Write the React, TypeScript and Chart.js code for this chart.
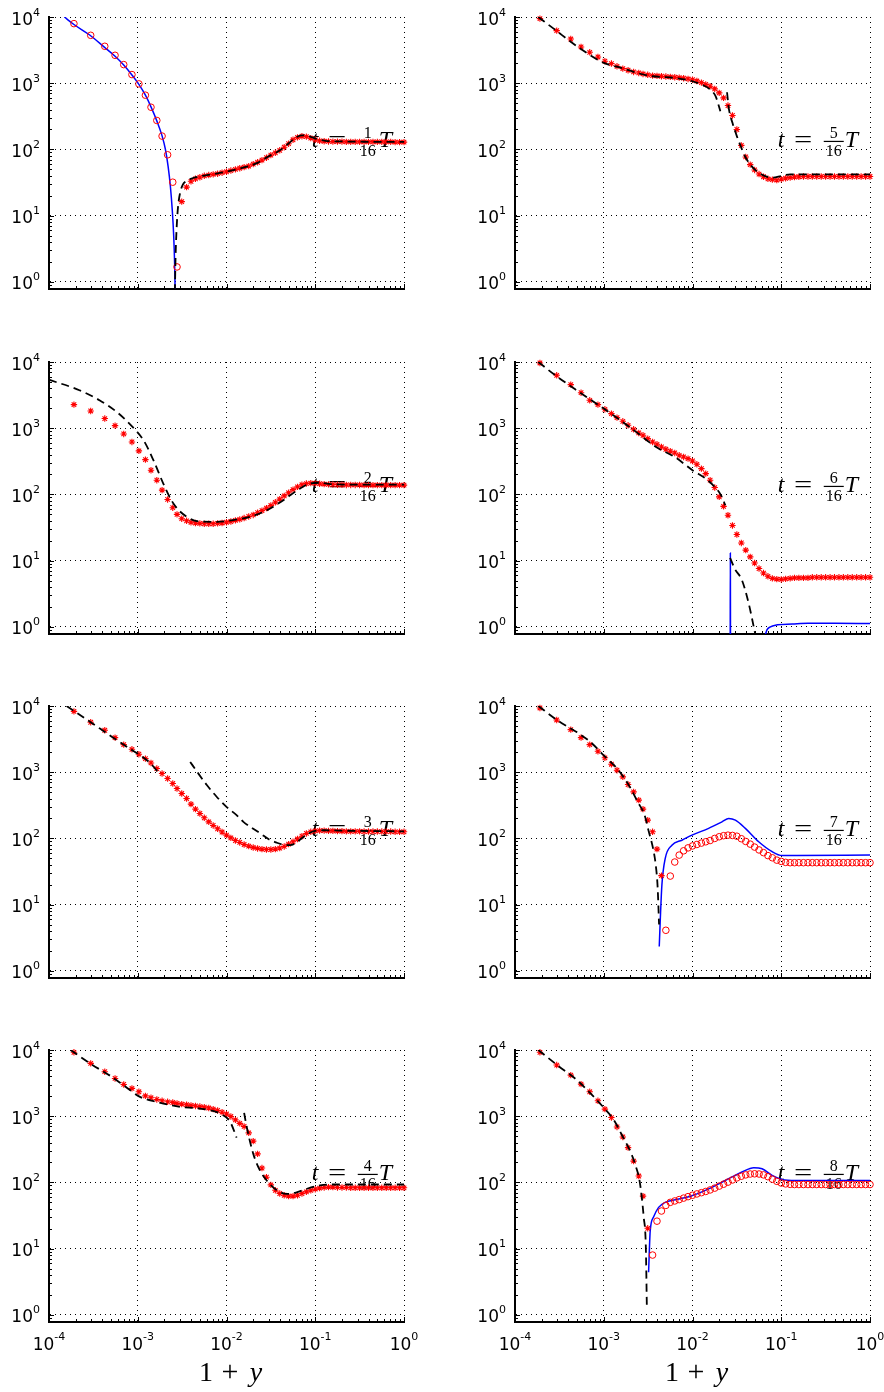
import React, { useEffect, useRef } from 'react';
import { Chart, registerables } from 'chart.js';

Chart.register(...registerables);

// ---------- shared marker grid (values of 1+y) ----------
const GRID_X = [
  1.91e-4, 2.95e-4, 4.25e-4, 5.55e-4, 6.95e-4, 8.6e-4, 1.03e-3, 1.22e-3, 1.41e-3, 1.64e-3,
  1.88e-3, 2.17e-3, 2.48e-3, 2.77e-3, 3.13e-3,
  0.00355, 0.00398, 0.00447, 0.00501, 0.00562, 0.00631, 0.00708, 0.00794, 0.00891, 0.01,
  0.0112, 0.0126, 0.0141, 0.0158, 0.0178, 0.02, 0.0224, 0.0251, 0.0282, 0.0316,
  0.0355, 0.0398, 0.0447, 0.0501, 0.0562, 0.0631, 0.0708, 0.0794, 0.0891, 0.1,
  0.112, 0.126, 0.141, 0.158, 0.178, 0.2, 0.224, 0.251, 0.282, 0.316,
  0.355, 0.398, 0.447, 0.501, 0.562, 0.631, 0.708, 0.794, 0.891, 1.0,
];

const X_DECADES = [1e-4, 1e-3, 1e-2, 1e-1, 1];
const Y_DECADES = [1, 10, 100, 1000, 10000];

// ---------- panel t = 1/16 T ----------
const P1_CIRCLE_START = 0;
const P1_CIRCLE_Y = [7940, 5290, 3610, 2640, 1910, 1350, 977, 659, 434, 274, 159, 83, 32, 1.68];
const P1_STAR_START = 14;
const P1_STAR_Y = [16.3, 27, 33, 36, 38, 40, 41, 42, 43, 44.5, 46, 48, 50, 52, 54, 56, 60, 64, 69, 75, 82,
  89, 97, 108, 122, 140, 152, 158, 156, 148, 140, 135, 133, 132,
  131, 131, 131, 130, 130, 130, 130, 130, 130, 130, 130, 130, 130, 130, 129, 129, 129];
const P1_DASH_X = [2.62e-3, 2.67e-3, 2.75e-3, 2.85e-3, 3.0e-3, 3.2e-3, 3.5e-3, 4.2e-3, 5e-3, 6e-3, 7.5e-3, 1e-2,
  1.3e-2, 1.7e-2, 2.2e-2, 3e-2, 4e-2, 5e-2, 6e-2, 7e-2, 8e-2, 1e-1, 1.3e-1, 2e-1, 3e-1, 5e-1, 1];
const P1_DASH_Y = [0.7, 2.5, 7, 14, 22, 29, 33, 37, 39, 41, 43, 46, 50, 55, 62, 79, 97, 123, 150, 163, 162, 146,
  135, 132, 131, 130, 130];
const P1_BLUE_X = [1.49e-4, 1.91e-4, 2.9e-4, 4.2e-4, 5.55e-4, 6.95e-4, 8.6e-4, 1.03e-3, 1.22e-3, 1.41e-3, 1.64e-3,
  1.88e-3, 2.05e-3, 2.2e-3, 2.33e-3, 2.45e-3, 2.54e-3, 2.6e-3, 2.64e-3];
const P1_BLUE_Y = [10000, 7700, 5300, 3500, 2550, 1880, 1330, 960, 660, 440, 270, 160, 100, 55, 28, 12, 5, 2, 0.7];

// ---------- panel t = 2/16 T ----------
const P2_STAR_START = 0;
const P2_STAR_Y = [2270, 1820, 1400, 1095, 819, 620, 454, 336, 232, 164, 116, 84, 63, 50, 43,
  40, 38, 37, 36.5, 36, 36, 36, 36.5, 37, 38, 39, 40.5, 42, 44, 46.5, 49, 53, 57, 62, 68,
  76, 85, 95, 106, 118, 130, 140, 146, 148, 147, 145, 143, 142,
  141, 140, 140, 139, 139, 139, 139, 138, 138, 138, 138, 138, 138, 138, 138, 138, 138];
const P2_DASH_X = [1e-4, 2.2e-4, 3.7e-4, 5.8e-4, 8.9e-4, 1.16e-3, 1.5e-3, 1.94e-3, 2.52e-3, 3.56e-3, 5e-3, 7.8e-3,
  1.19e-2, 1.84e-2, 2.84e-2, 4.37e-2, 6.7e-2, 8.7e-2, 1.1e-1, 1.5e-1, 2.5e-1, 1];
const P2_DASH_Y = [5400, 3750, 2650, 1760, 1020, 660, 330, 146, 73, 46, 39, 38.5, 41, 46, 57.5, 82, 122, 146, 150,
  143, 141, 141];

// ---------- panel t = 3/16 T ----------
const P3_STAR_START = 0;
const P3_STAR_Y = [8300, 5680, 4300, 3330, 2610, 2220, 1870, 1605, 1380, 1135, 955, 803, 675, 567, 477,
  401, 330, 277, 238, 205, 178, 157, 140, 125, 112, 102, 93, 87, 81, 76.6, 73, 70.6, 69, 68, 68,
  69, 71.5, 75.7, 82, 89, 98, 108, 119, 126, 130, 131, 131, 130,
  130, 129, 129, 128, 128, 128, 128, 127, 127, 127, 127, 127, 127, 127, 126, 126, 126];
const P3_DASH_X = [1.58e-4, 3e-4, 5e-4, 8e-4, 1.1e-3, 1.4e-3, 1.78e-3, 2.5e-3, 3.9e-3, 4.7e-3, 6e-3, 7.7e-3, 1e-2,
  1.3e-2, 1.55e-2, 2e-2, 2.4e-2, 3e-2, 3.7e-2, 4.4e-2, 5.2e-2, 6e-2, 7e-2, 8.5e-2, 1e-1, 1.3e-1, 2e-1, 5e-1, 1];
const P3_DASH_Y = [10000, 5600, 3500, 2300, 1750, 1350, 920, null, 1430, 1000, 640, 430, 300, 225, 178, 140, 119, 97,
  86, 80, 79, 85, 100, 120, 130, 133, 131, 129, 128];

// ---------- panel t = 4/16 T ----------
const P4_STAR_START = 0;
const P4_STAR_Y = [9230, 6280, 4700, 3720, 3020, 2630, 2340, 2030, 1900, 1790, 1710, 1650, 1610, 1560, 1520,
  1490, 1460, 1430, 1400, 1370, 1330, 1280, 1220, 1150, 1080, 990, 880, 780, 700, 560, 420, 270, 165, 120, 92,
  76, 68, 64, 62, 62, 64, 68, 72, 76, 79, 82, 84, 85,
  85, 84, 84, 84, 83, 83, 83, 83, 83, 83, 83, 83, 83, 83, 83, 83, 83];
const P4_DASH_X = [1.75e-4, 3e-4, 5e-4, 7e-4, 1.06e-3, 1.63e-3, 2.99e-3, 5e-3, 8.45e-3, 1.1e-2, 1.3e-2, 1.45e-2,
  1.58e-2, 1.69e-2, 2e-2, 2.38e-2, 2.84e-2, 3.67e-2, 4.76e-2, 6.17e-2, 8e-2, 1.13e-1, 1.6e-1, 1];
const P4_DASH_Y = [10000, 6100, 4000, 2900, 1960, 1650, 1385, 1306, 1097, 820, 475, null,
  1120, 688, 272, 152, 107, 77, 67, 71, 80, 90, 93, 93];

// ---------- panel t = 5/16 T ----------
const P5_STAR_START = 0;
const P5_STAR_Y = [9440, 6220, 4650, 3530, 2930, 2490, 2150, 1980, 1800, 1660, 1570, 1480, 1430, 1380, 1340,
  1300, 1290, 1275, 1260, 1245, 1230, 1215, 1190, 1160, 1130, 1080, 1020, 960, 900, 822, 715, 601, 460, 326, 200,
  115, 77, 59, 49, 42.5, 38.7, 36, 35, 34.5, 35.5, 36.7, 37.5, 38.3,
  38.7, 39, 39, 39, 39, 39, 39, 39, 39, 39, 39, 39, 39, 39, 39, 39, 39];
const P5_DASH_X = [1.83e-4, 2.82e-4, 5e-4, 1e-3, 1.58e-3, 3.16e-3, 6.3e-3, 1e-2, 1.26e-2, 1.58e-2, 1.82e-2, 2.06e-2,
  2.25e-2, 2.45e-2, 2.57e-2, 2.82e-2, 3.16e-2, 3.55e-2, 3.98e-2, 5.01e-2, 6.31e-2, 7.94e-2, 1e-1, 1.26e-1, 1];
const P5_DASH_Y = [10000, 6440, 3610, 2030, 1700, 1300, 1200, 1070, 955, 804, 637, 378, null,
  731, 410, 252, 159, 106, 75, 50, 40.5, 37.4, 39.6, 42, 42];

// ---------- panel t = 6/16 T ----------
const P6_STAR_START = 0;
const P6_STAR_Y = [9660, 6300, 4550, 3440, 2640, 2270, 1930, 1660, 1445, 1272, 1107, 963, 848, 782, 697,
  620, 572, 521, 481, 449, 423, 390, 368, 347, 320, 285, 245, 206, 164, 127, 92, 66, 48.5, 34, 24.8,
  18.5, 14.4, 11.4, 9.2, 7.6, 6.5, 5.8, 5.4, 5.25, 5.2, 5.3, 5.4, 5.5,
  5.5, 5.5, 5.5, 5.6, 5.6, 5.6, 5.6, 5.6, 5.6, 5.6, 5.6, 5.6, 5.6, 5.6, 5.6, 5.6, 5.6];
const P6_DASH_X = [1.83e-4, 2.8e-4, 5e-4, 1e-3, 2e-3, 3.98e-3, 6.3e-3, 1e-2, 1.41e-2, 1.78e-2, 2.1e-2, 2.34e-2,
  2.5e-2, 2.65e-2, 3.0e-2, 3.61e-2, 4.3e-2, 4.9e-2, 5.3e-2];
const P6_DASH_Y = [10000, 6400, 3700, 1980, 1020, 510, 368, 232, 173, 130, 97, 68.6, null,
  11, 7.5, 5.06, 2.25, 1.0, 0.6];
const P6_BLUE_X = [2.66e-2, 2.67e-2, 2.68e-2, 4e-2, 6.5e-2, 6.9e-2, 7.55e-2, 8.6e-2, 1.33e-1, 2e-1, 4e-1, 1];
const P6_BLUE_Y = [0.5, 13, 0.5, null, 0.7, 0.9, 1.0, 1.06, 1.1, 1.13, 1.13, 1.12];

// ---------- panel t = 7/16 T ----------
const P7_STAR_START = 0;
const P7_STAR_Y = [9330, 6150, 4400, 3330, 2610, 2070, 1650, 1320, 1073, 851, 652, 505, 379, 277, 189, 126, 69, 27.4];
const P7_CIRCLE_START = 18;
const P7_CIRCLE_Y = [4.1, 27, 44, 56, 65, 72, 77, 81, 85, 89, 93, 100, 106, 110, 112, 111, 108, 99, 90, 82,
  74, 67, 61, 55, 51, 47, 45, 43.5, 43,
  43, 43, 43, 43, 43, 43, 43, 43, 43, 43, 43, 43, 43, 43, 43, 43, 43, 43];
const P7_DASH_X = [1.83e-4, 3e-4, 5e-4, 7e-4, 1e-3, 1.4e-3, 1.9e-3, 2.4e-3, 2.9e-3, 3.2e-3, 3.6e-3, 3.85e-3,
  4.05e-3, 4.2e-3];
const P7_DASH_Y = [10000, 6100, 4000, 2900, 1800, 1150, 650, 360, 220, 130, 70, 40, 18, 5];
const P7_BLUE_X = [4.22e-3, 4.34e-3, 4.52e-3, 4.93e-3, 5.86e-3, 7.6e-3, 9.86e-3, 1.52e-2, 2.15e-2, 2.56e-2, 3.04e-2,
  3.94e-2, 5.57e-2, 7.89e-2, 1.02e-1, 1.5e-1, 1];
const P7_BLUE_Y = [2.33, 6.2, 19.8, 50, 79, 94, 112, 142, 178, 200, 189, 142, 89, 63, 55, 55, 56];

// ---------- panel t = 8/16 T ----------
const P8_STAR_START = 0;
const P8_STAR_Y = [9230, 5930, 4180, 3050, 2340, 1710, 1280, 955, 689, 486, 335, 210, 125, 62, 20.3];
const P8_CIRCLE_START = 15;
const P8_CIRCLE_Y = [8.0, 26, 37, 45, 50, 52.5, 55, 58, 61, 64, 67, 70, 73, 77, 82, 88, 94, 101, 109, 117,
  124, 130, 134, 135, 134, 130, 122, 112, 104, 98, 95, 93.5, 93,
  93, 93, 93, 93, 93, 93, 93, 93, 93, 93, 93, 93, 93, 93, 93, 93, 93];
const P8_DASH_X = [1.83e-4, 3e-4, 5e-4, 7e-4, 1e-3, 1.3e-3, 1.6e-3, 2e-3, 2.3e-3, 2.55e-3, 2.82e-3, 2.98e-3, 3.06e-3];
const P8_DASH_Y = [10000, 5900, 3500, 2250, 1350, 880, 520, 290, 175, 100, 30, 10.5, 1.29];
const P8_BLUE_X = [3.2e-3, 3.34e-3, 3.64e-3, 4.15e-3, 4.93e-3, 6.4e-3, 1e-2, 1.52e-2, 2.34e-2, 3.61e-2, 4.9e-2,
  6.08e-2, 7.89e-2, 1.02e-1, 1.45e-1, 1];
const P8_BLUE_Y = [4.4, 18.7, 30, 42, 50, 54.6, 63.5, 80, 107, 144, 167, 161, 128, 111, 107, 107];

// ---------- panel table ----------
type Series = { x: number[]; y: (number | null)[] };
type Markers = { start: number; y: number[] };
type PanelSpec = { num: number; col: number; row: number; stars?: Markers; circles?: Markers; dash: Series; blue?: Series };

const PANELS: PanelSpec[] = [
  { num: 1, col: 0, row: 0, circles: { start: P1_CIRCLE_START, y: P1_CIRCLE_Y }, stars: { start: P1_STAR_START, y: P1_STAR_Y },
    dash: { x: P1_DASH_X, y: P1_DASH_Y }, blue: { x: P1_BLUE_X, y: P1_BLUE_Y } },
  { num: 2, col: 0, row: 1, stars: { start: P2_STAR_START, y: P2_STAR_Y }, dash: { x: P2_DASH_X, y: P2_DASH_Y } },
  { num: 3, col: 0, row: 2, stars: { start: P3_STAR_START, y: P3_STAR_Y }, dash: { x: P3_DASH_X, y: P3_DASH_Y } },
  { num: 4, col: 0, row: 3, stars: { start: P4_STAR_START, y: P4_STAR_Y }, dash: { x: P4_DASH_X, y: P4_DASH_Y } },
  { num: 5, col: 1, row: 0, stars: { start: P5_STAR_START, y: P5_STAR_Y }, dash: { x: P5_DASH_X, y: P5_DASH_Y } },
  { num: 6, col: 1, row: 1, stars: { start: P6_STAR_START, y: P6_STAR_Y }, dash: { x: P6_DASH_X, y: P6_DASH_Y },
    blue: { x: P6_BLUE_X, y: P6_BLUE_Y } },
  { num: 7, col: 1, row: 2, stars: { start: P7_STAR_START, y: P7_STAR_Y }, circles: { start: P7_CIRCLE_START, y: P7_CIRCLE_Y },
    dash: { x: P7_DASH_X, y: P7_DASH_Y }, blue: { x: P7_BLUE_X, y: P7_BLUE_Y } },
  { num: 8, col: 1, row: 3, stars: { start: P8_STAR_START, y: P8_STAR_Y }, circles: { start: P8_CIRCLE_START, y: P8_CIRCLE_Y },
    dash: { x: P8_DASH_X, y: P8_DASH_Y }, blue: { x: P8_BLUE_X, y: P8_BLUE_Y } },
];

// ---------- layout ----------
const CHART_LEFT = [49, 515];
const CHART_W = 355;
const CHART_TOP = [17, 362, 706, 1050];
const CHART_H = 272;
const AX_W = 48;
const PAD_TOP = 14;
const PAD_RIGHT = 14;

const SANS = '"DejaVu Sans", "Liberation Sans", sans-serif';
const SERIF = '"Liberation Serif", "DejaVu Serif", serif';
const RED = '#ff0000';
const BLUE = '#0000ff';

const pairs = (s: Series) => s.x.map((x, i) => ({ x, y: s.y[i] }));
const onGrid = (m: Markers) => m.y.map((y, i) => ({ x: GRID_X[m.start + i], y }));

function makeDeco(p: PanelSpec) {
  const isBottom = p.row === 3;
  return {
    id: 'deco',
    beforeDatasetsDraw(chart: any) {
      const ctx = chart.ctx;
      const xs = chart.scales.x;
      const ys = chart.scales.y;
      const x0 = xs.getPixelForValue(0.1) - 3.5;
      const base = ys.getPixelForValue(100) - 2;
      ctx.save();
      ctx.fillStyle = '#000';
      ctx.textBaseline = 'alphabetic';
      ctx.textAlign = 'left';
      ctx.font = `italic 24px ${SERIF}`;
      ctx.fillText('t', x0, base);
      ctx.save();
      ctx.translate(x0 + 25.5, base);
      ctx.scale(1.35, 1);
      ctx.font = `24px ${SERIF}`;
      ctx.textAlign = 'center';
      ctx.fillText('=', 0, 0);
      ctx.restore();
      const barY = base - 6;
      ctx.fillRect(x0 + 46, barY - 0.6, 20, 1.2);
      ctx.font = `16px ${SERIF}`;
      ctx.textAlign = 'center';
      ctx.fillText(String(p.num), x0 + 56, barY - 3);
      ctx.fillText('16', x0 + 56, barY + 14.4);
      ctx.font = `italic 24px ${SERIF}`;
      ctx.textAlign = 'left';
      ctx.fillText('T', x0 + 67, base);
      ctx.restore();
    },
    afterDraw(chart: any) {
      const ctx = chart.ctx;
      const xs = chart.scales.x;
      const ys = chart.scales.y;
      const { left, right, bottom } = chart.chartArea;
      ctx.save();
      // inward tick marks
      ctx.strokeStyle = '#000';
      ctx.lineWidth = 1;
      ctx.beginPath();
      for (let d = -4; d <= 0; d++) {
        for (let m = 1; m <= 9; m++) {
          const v = m * Math.pow(10, d);
          if (v > 1.0001) break;
          const px = Math.round(xs.getPixelForValue(v)) + 0.5;
          const len = m === 1 ? 5 : 3;
          ctx.moveTo(px, bottom);
          ctx.lineTo(px, bottom - len);
        }
      }
      for (let d = -1; d <= 4; d++) {
        for (let m = 1; m <= 9; m++) {
          const v = m * Math.pow(10, d);
          if (v < 0.78 || v > 10000.1) continue;
          const py = Math.round(ys.getPixelForValue(v)) + 0.5;
          const len = m === 1 ? 5 : 3;
          ctx.moveTo(left, py);
          ctx.lineTo(left + len, py);
        }
      }
      ctx.stroke();

      // y tick labels
      ctx.fillStyle = '#000';
      ctx.textBaseline = 'alphabetic';
      ctx.textAlign = 'left';
      for (const v of Y_DECADES) {
        const e = String(Math.round(Math.log10(v)));
        const py = ys.getPixelForValue(v);
        ctx.font = `11px ${SANS}`;
        const ew = ctx.measureText(e).width;
        ctx.font = `17px ${SANS}`;
        const bw = ctx.measureText('10').width;
        const xr = left - 9;
        ctx.fillText('10', xr - ew - bw, py + 7.5);
        ctx.font = `11px ${SANS}`;
        ctx.fillText(e, xr - ew, py - 1.5);
      }

      if (isBottom) {
        for (const v of X_DECADES) {
          const n = Math.round(Math.log10(v));
          const e = n === 0 ? '0' : '-' + String(Math.abs(n));
          const px = xs.getPixelForValue(v);
          ctx.font = `11px ${SANS}`;
          const ew = ctx.measureText(e).width;
          ctx.font = `17px ${SANS}`;
          const bw = ctx.measureText('10').width;
          const start = px - (bw + ew) / 2;
          ctx.fillText('10', start, bottom + 27.5);
          ctx.font = `11px ${SANS}`;
          ctx.fillText(e, start + bw, bottom + 17.5);
        }
        // axis title 1 + y
        const c = (left + right) / 2 + 5.5;
        const by = bottom + 58.5;
        ctx.textAlign = 'center';
        ctx.font = `28px ${SERIF}`;
        ctx.fillText('1', c - 26, by);
        ctx.font = `30px ${SERIF}`;
        ctx.fillText('+', c - 2, by);
        ctx.font = `italic 28px ${SERIF}`;
        ctx.fillText('y', c + 24, by);
      }
      ctx.restore();
    },
  };
}

function Panel({ p }: { p: PanelSpec }) {
  const ref = useRef<HTMLCanvasElement>(null);
  const bottomExtra = p.row === 3 ? 70 : 6;
  const w = AX_W + CHART_W + PAD_RIGHT;
  const h = PAD_TOP + CHART_H + bottomExtra;

  useEffect(() => {
    if (!ref.current) return;
    const datasets: any[] = [];
    datasets.push({
      data: pairs(p.dash), borderColor: '#000', borderWidth: 1.8, borderDash: [8, 5],
      pointRadius: 0, fill: false, cubicInterpolationMode: 'monotone', spanGaps: false,
    });
    if (p.stars) {
      datasets.push({
        data: onGrid(p.stars), showLine: false, pointStyle: 'star', pointRadius: 3.2,
        pointBorderColor: RED, pointBackgroundColor: RED, pointBorderWidth: 1.1, borderColor: RED, clip: false,
      });
    }
    if (p.circles) {
      datasets.push({
        data: onGrid(p.circles), showLine: false, pointStyle: 'circle', pointRadius: 3.3,
        pointBorderColor: RED, pointBackgroundColor: 'rgba(0,0,0,0)', pointBorderWidth: 1, borderColor: RED, clip: false,
      });
    }
    if (p.blue) {
      datasets.push({
        data: pairs(p.blue), borderColor: BLUE, borderWidth: 1.5, pointRadius: 0, fill: false,
        cubicInterpolationMode: 'monotone', spanGaps: false,
      });
    }
    const gridOpts = { color: '#000', lineWidth: 1, drawTicks: false, tickLength: 0 };
    const borderOpts = { display: true, color: '#000', width: 2, dash: [1, 4] };
    const chart = new Chart(ref.current, {
      type: 'line',
      data: { datasets },
      options: {
        animation: false,
        responsive: false,
        devicePixelRatio: 1,
        events: [],
        layout: { padding: { top: PAD_TOP, right: PAD_RIGHT, left: 0, bottom: 0 }, autoPadding: false },
        plugins: { legend: { display: false }, tooltip: { enabled: false }, title: { display: false } },
        scales: {
          x: {
            type: 'logarithmic', position: 'bottom', min: 1e-4, max: 1,
            afterBuildTicks: (s: any) => { s.ticks = X_DECADES.map((v) => ({ value: v })); },
            afterFit: (s: any) => { s.height = bottomExtra; },
            ticks: { display: false },
            grid: gridOpts,
            border: borderOpts,
          },
          y: {
            type: 'logarithmic', position: 'left', min: 0.78, max: 10000,
            afterBuildTicks: (s: any) => { s.ticks = Y_DECADES.map((v) => ({ value: v })); },
            afterFit: (s: any) => { s.width = AX_W; },
            ticks: { display: false },
            grid: gridOpts,
            border: borderOpts,
          },
        },
      } as any,
      plugins: [makeDeco(p)],
    });
    return () => chart.destroy();
  }, []);

  return (
    <canvas
      ref={ref}
      width={w}
      height={h}
      style={{ position: 'absolute', left: CHART_LEFT[p.col] - AX_W, top: CHART_TOP[p.row] - PAD_TOP, width: w, height: h }}
    />
  );
}

export default function App() {
  return (
    <div style={{ position: 'absolute', left: 0, top: 0, width: 884, height: 1392, background: '#fff', overflow: 'hidden' }}>
      {PANELS.map((p) => (
        <Panel key={p.num} p={p} />
      ))}
    </div>
  );
}
